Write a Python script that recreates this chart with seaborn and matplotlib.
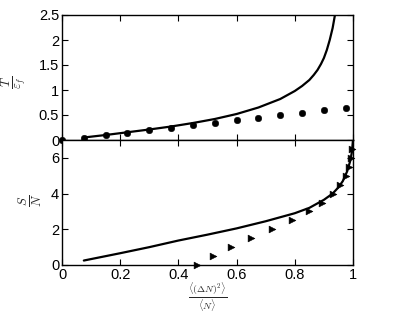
import numpy as np
import pandas as pd
import matplotlib
matplotlib.use("Agg")
import matplotlib.pyplot as plt
import seaborn as sns

# fluctuation ratio <(dN)^2>/<N> on the x axis
# top panel: T / eps_f
t_line_x = [0.075, 0.15, 0.225, 0.3, 0.375, 0.45, 0.525, 0.6, 0.675, 0.75,
            0.8, 0.825, 0.85, 0.865, 0.878, 0.89, 0.9, 0.91, 0.92, 0.93, 0.938]
t_line_y = [0.05, 0.1, 0.155, 0.21, 0.27, 0.34, 0.42, 0.52, 0.65, 0.82,
            0.98, 1.08, 1.2, 1.3, 1.4, 1.52, 1.64, 1.8, 2.0, 2.24, 2.5]
t_dots_x = [0.0, 0.075, 0.15, 0.225, 0.3, 0.375, 0.45, 0.525, 0.6, 0.675,
            0.75, 0.825, 0.9, 0.975]
t_dots_y = [0.0, 0.05, 0.1, 0.15, 0.2, 0.25, 0.3, 0.35, 0.4, 0.45,
            0.5, 0.55, 0.6, 0.65]

# bottom panel: S / N
s_line_x = [0.075, 0.2, 0.3, 0.4, 0.5, 0.6, 0.7, 0.8, 0.85, 0.9, 0.93,
            0.95, 0.965, 0.98, 0.99, 0.996, 1.0]
s_line_y = [0.25, 0.66, 1.0, 1.37, 1.7, 2.05, 2.45, 2.9, 3.2, 3.65, 4.0,
            4.35, 4.7, 5.25, 5.8, 6.3, 7.0]
s_tri_x = [0.463, 0.52, 0.582, 0.65, 0.72, 0.79, 0.85, 0.895, 0.932, 0.955,
           0.975, 0.985, 0.992, 0.997]
s_tri_y = [0.0, 0.5, 1.0, 1.5, 2.0, 2.5, 3.0, 3.5, 4.0, 4.5, 5.0, 5.5, 6.0, 6.5]

sns.set_style("ticks")
plt.rcParams["font.family"] = ["Liberation Sans", "DejaVu Sans"]
plt.rcParams["mathtext.fontset"] = "cm"

fig = plt.figure(figsize=(4.15, 3.13), dpi=100)
ax1 = fig.add_axes([62 / 415, 1 - 140 / 313, 291 / 415, 125 / 313])
ax2 = fig.add_axes([62 / 415, 1 - 265 / 313, 291 / 415, 125 / 313])

sns.lineplot(x=t_line_x, y=t_line_y, ax=ax1, color="black", lw=1.6)
sns.scatterplot(x=t_dots_x, y=t_dots_y, ax=ax1, color="black", s=22,
                marker="o", edgecolor="black", clip_on=False, zorder=5)

sns.lineplot(x=s_line_x, y=s_line_y, ax=ax2, color="black", lw=1.6)
sns.scatterplot(x=s_tri_x, y=s_tri_y, ax=ax2, color="black", s=24,
                marker=">", edgecolor="black", clip_on=False, zorder=5)

ax1.set_xlim(0, 1)
ax1.set_ylim(0, 2.5)
ax1.set_yticks([0, 0.5, 1, 1.5, 2, 2.5])
ax1.set_yticklabels(["0", "0.5", "1", "1.5", "2", "2.5"])
ax1.set_xticks([0, 0.2, 0.4, 0.6, 0.8, 1])
ax1.set_xticklabels([])

ax2.set_xlim(0, 1)
ax2.set_ylim(0, 7)
ax2.set_yticks([0, 2, 4, 6])
ax2.set_xticks([0, 0.2, 0.4, 0.6, 0.8, 1])
ax2.set_xticklabels(["0", "0.2", "0.4", "0.6", "0.8", "1"])

for ax in (ax1, ax2):
    ax.tick_params(direction="in", top=True, right=True, length=4,
                   width=0.8, labelsize=10.5, pad=2, colors="black")
    for sp in ax.spines.values():
        sp.set_linewidth(1.0)
        sp.set_color("black")

ax1.set_ylabel(r"$\frac{T}{\varepsilon_f}$", fontsize=13, va="center")
ax1.yaxis.set_label_coords(-0.165, 0.46)
ax2.set_ylabel(r"$\frac{S}{N}$", fontsize=13, va="center")
ax2.yaxis.set_label_coords(-0.11, 0.52)
ax2.set_xlabel(r"$\frac{\langle(\Delta N)^2\rangle}{\langle N\rangle}$",
               fontsize=10)
ax2.xaxis.set_label_coords(0.5, -0.125)
ax2.xaxis.label.set_va("top")

fig.savefig("out.png", dpi=100)
